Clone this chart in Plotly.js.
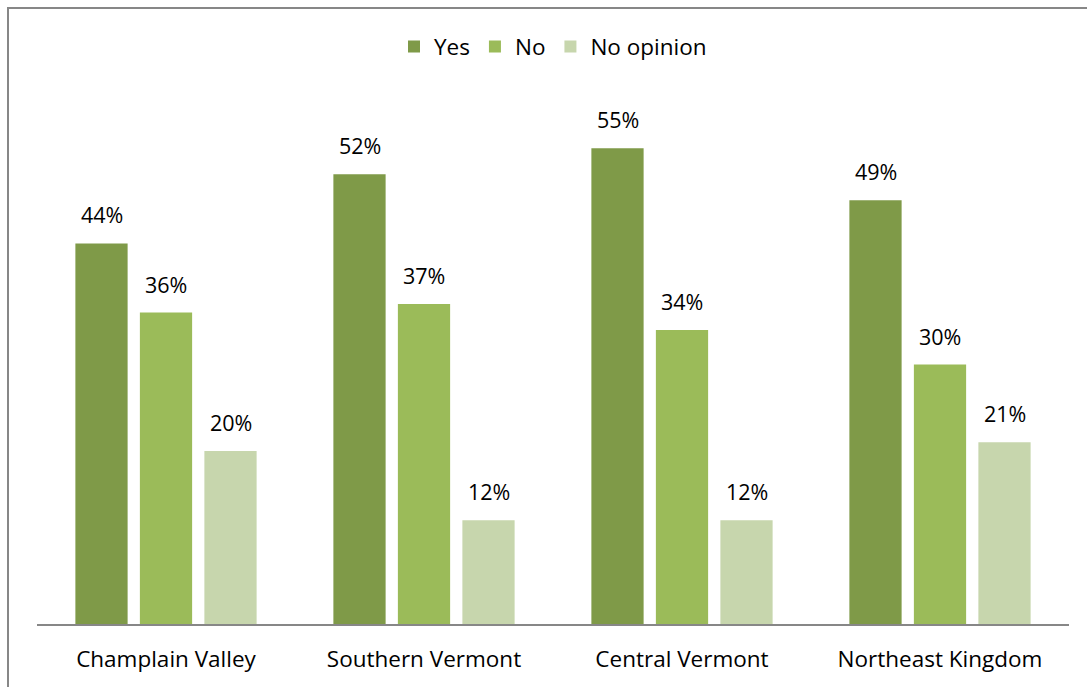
<!DOCTYPE html>
<html>
<head>
<meta charset="utf-8">
<script src="https://cdn.plot.ly/plotly-3.0.1.min.js"></script>
<style>
html,body{margin:0;padding:0;background:#fff;}
#wrap{position:relative;width:1087px;height:687px;overflow:hidden;}
#chart{position:absolute;left:0;top:0;width:1087px;height:687px;}
#frame{position:absolute;left:7px;top:7px;width:1200px;height:800px;border-left:2px solid #878787;border-top:2px solid #878787;pointer-events:none;}
</style>
</head>
<body>
<div id="wrap"><div id="chart"></div><div id="frame"></div></div>
<script>
const categories = ["Champlain Valley", "Southern Vermont", "Central Vermont", "Northeast Kingdom"];
const seriesNames = ["Yes", "No", "No opinion"];
const yesValues = [44, 52, 55, 49];
const noValues = [36, 37, 34, 30];
const noOpinionValues = [20, 12, 12, 21];
const colors = ["#7F9A48", "#9BBB59", "#C7D6AD"];

const allValues = [yesValues, noValues, noOpinionValues];
const FONT = "'Open Sans', 'Noto Sans', sans-serif";
const bargap = 0.25;
const slot = (1 - bargap) / 3;

const traces = allValues.map((vals, s) => ({
  type: "bar",
  name: seriesNames[s],
  x: categories,
  y: vals,
  marker: {color: colors[s]},
  hoverinfo: "skip"
}));

const annotations = [];
allValues.forEach((vals, s) => {
  vals.forEach((v, i) => {
    annotations.push({
      xref: "x", yref: "y",
      x: i + (s - 1) * slot,
      y: v,
      text: v + "%",
      showarrow: false,
      yanchor: "bottom",
      yshift: 12,
      font: {family: FONT, size: 21.5, color: "#000"}
    });
  });
});

const layout = {
  width: 1087, height: 687,
  margin: {l: 37, r: 18, t: 105, b: 63},
  paper_bgcolor: "#fff", plot_bgcolor: "#fff",
  barmode: "group",
  bargap: bargap,
  bargroupgap: 0.19,
  showlegend: true,
  legend: {orientation: "h", x: 0.5, xanchor: "center", y: 1.112, yanchor: "middle",
           font: {family: FONT, size: 22.5, color: "#000"}, itemwidth: 30, traceorder: "normal"},
  xaxis: {type: "category", showline: true, linecolor: "#878787", linewidth: 1.5,
          ticks: "outside", ticklen: 14, tickcolor: "rgba(0,0,0,0)",
          tickfont: {family: FONT, size: 22.5, color: "#000"}, showgrid: false, fixedrange: true},
  yaxis: {range: [0, 60], showticklabels: false, showgrid: false, zeroline: false, showline: false, fixedrange: true},
  annotations: annotations,
  font: {family: FONT}
};

Plotly.newPlot("chart", traces, layout, {displayModeBar: false, staticPlot: true});
</script>
</body>
</html>
